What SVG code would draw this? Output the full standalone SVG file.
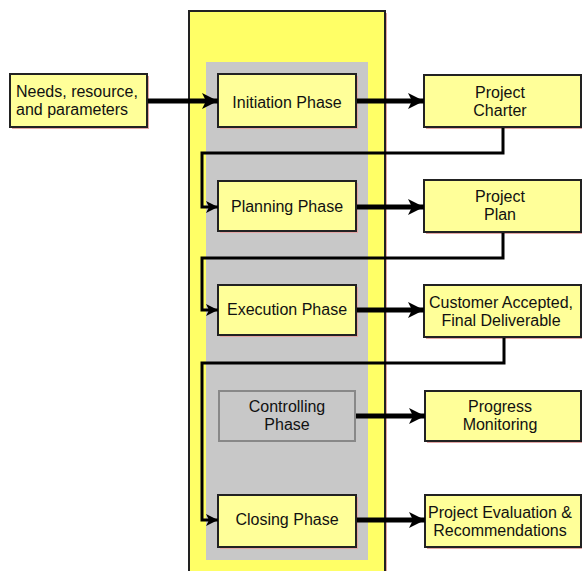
<svg xmlns="http://www.w3.org/2000/svg" width="582" height="571" viewBox="0 0 582 571">
<style>
.box{fill:#ffff99;stroke:#222;stroke-width:2}
.gbox{fill:#c8c8c8;stroke:#888;stroke-width:2}
.sh{fill:#e3a5a5}
.t{font-family:"Liberation Sans",Arial,sans-serif;font-size:16px;fill:#111;text-anchor:middle}
.tl{font-family:"Liberation Sans",Arial,sans-serif;font-size:16px;fill:#111}
.arr{stroke:#000;stroke-width:5;fill:none}
.con{stroke:#000;stroke-width:3;fill:none}
</style>
<defs>
<marker id="ah" markerUnits="userSpaceOnUse" markerWidth="18" markerHeight="18" refX="16" refY="9" orient="auto"><path d="M0,1 L16,9 L0,17 L4,9 Z" fill="#000"/></marker>
<marker id="ah2" markerUnits="userSpaceOnUse" markerWidth="14" markerHeight="14" refX="12" refY="7" orient="auto"><path d="M0,1 L12,7 L0,13 L3,7 Z" fill="#000"/></marker>
</defs>
<rect width="582" height="571" fill="#fff"/>
<g id="container">
<rect x="191" y="13" width="196" height="564" class="sh"/>
<rect x="189" y="11" width="196" height="564" fill="#ffff66" stroke="#222" stroke-width="2"/>
<rect x="206" y="62" width="162" height="498" fill="#c8c8c8"/>
</g>
<g id="needs">
<rect x="12" y="76" width="137" height="53" class="sh"/>
<rect x="10" y="74" width="137" height="53" class="box"/>
<text x="16" y="97" class="tl">Needs, resource,</text>
<text x="16" y="115" class="tl">and parameters</text>
</g>
<g id="initiation">
<rect x="220" y="76" width="138" height="53" class="sh"/>
<rect x="218" y="74" width="138" height="53" class="box"/>
<text x="287" y="108" class="t">Initiation Phase</text>
</g>
<g id="charter">
<rect x="426" y="77" width="157" height="52" class="sh"/>
<rect x="424" y="75" width="157" height="52" class="box"/>
<text x="500" y="98" class="t">Project</text>
<text x="500" y="116" class="t">Charter</text>
</g>
<g id="planning">
<rect x="220" y="183" width="138" height="50" class="sh"/>
<rect x="218" y="181" width="138" height="50" class="box"/>
<text x="287" y="212" class="t">Planning Phase</text>
</g>
<g id="plan">
<rect x="426" y="182" width="157" height="52" class="sh"/>
<rect x="424" y="180" width="157" height="52" class="box"/>
<text x="500" y="202" class="t">Project</text>
<text x="500" y="220" class="t">Plan</text>
</g>
<g id="execution">
<rect x="220" y="287" width="138" height="50" class="sh"/>
<rect x="218" y="285" width="138" height="50" class="box"/>
<text x="287" y="315" class="t">Execution Phase</text>
</g>
<g id="deliverable">
<rect x="426" y="287" width="157" height="52" class="sh"/>
<rect x="424" y="285" width="157" height="52" class="box"/>
<text x="501" y="308" class="t">Customer Accepted,</text>
<text x="501" y="326" class="t">Final Deliverable</text>
</g>
<g id="controlling">
<rect x="219" y="391" width="136" height="50" class="gbox"/>
<text x="287" y="412" class="t">Controlling</text>
<text x="287" y="430" class="t">Phase</text>
</g>
<g id="monitoring">
<rect x="427" y="393" width="156" height="50" class="sh"/>
<rect x="425" y="391" width="156" height="50" class="box"/>
<text x="500" y="412" class="t">Progress</text>
<text x="500" y="430" class="t">Monitoring</text>
</g>
<g id="closing">
<rect x="220" y="497" width="138" height="52" class="sh"/>
<rect x="218" y="495" width="138" height="52" class="box"/>
<text x="287" y="525" class="t">Closing Phase</text>
</g>
<g id="evaluation">
<rect x="427" y="497" width="156" height="52" class="sh"/>
<rect x="425" y="495" width="156" height="52" class="box"/>
<text x="500" y="518" class="t">Project Evaluation &amp;</text>
<text x="500" y="536" class="t">Recommendations</text>
</g>
<g id="connectors">
<path d="M148,101 H218" class="arr" marker-end="url(#ah)"/>
<path d="M357,101 H424" class="arr" marker-end="url(#ah)"/>
<path d="M357,207 H424" class="arr" marker-end="url(#ah)"/>
<path d="M357,310 H424" class="arr" marker-end="url(#ah)"/>
<path d="M356,416 H425" class="arr" marker-end="url(#ah)"/>
<path d="M357,520 H425" class="arr" marker-end="url(#ah)"/>
<path d="M503,128 V153 H202 V207 H218" class="con" marker-end="url(#ah2)"/>
<path d="M503,233 V258 H202 V310 H218" class="con" marker-end="url(#ah2)"/>
<path d="M504,338 V363 H202 V520 H218" class="con" marker-end="url(#ah2)"/>
</g>
</svg>
